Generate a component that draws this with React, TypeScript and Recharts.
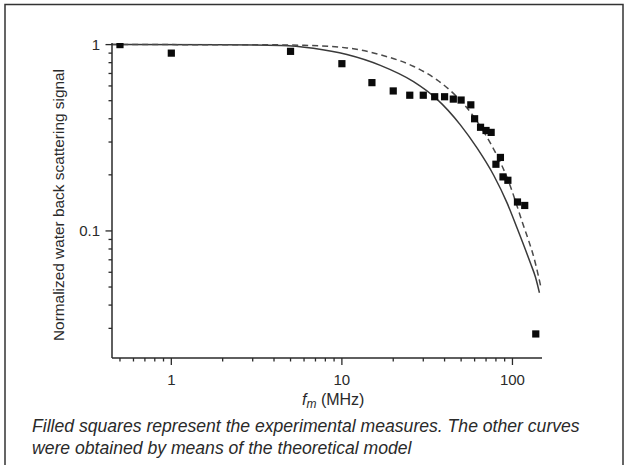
import React from 'react';
import { ComposedChart, Line, Scatter, XAxis, YAxis } from 'recharts';

// experimental measures (filled squares)
const measuredFreq = [0.5, 1, 5, 10, 15, 20, 25, 30, 35, 40, 45, 50, 57, 60, 65, 70, 75, 80, 85, 88, 94, 107, 118, 137];
const measuredSignal = [1.0, 0.9, 0.92, 0.79, 0.625, 0.564, 0.535, 0.535, 0.525, 0.525, 0.51, 0.504, 0.475, 0.4, 0.36, 0.346, 0.338, 0.228, 0.248, 0.195, 0.187, 0.143, 0.137, 0.028];

// theoretical model, solid curve
const solidFreq = [0.45, 2, 4.4, 6.8, 10.7, 16.8, 26.3, 35.8, 49.5, 62.1, 77.6, 93.1, 106.7, 127.6, 136.5, 143.9];
const solidSignal = [1.0, 0.998, 0.99, 0.956, 0.885, 0.774, 0.633, 0.513, 0.371, 0.278, 0.199, 0.141, 0.103, 0.067, 0.0564, 0.0466];

// theoretical model, dashed curve
const dashedFreq = [0.45, 3, 6, 10.7, 16.8, 26.4, 36.1, 43.3, 54.2, 67.9, 81.3, 93.5, 114, 136.5, 147];
const dashedSignal = [1.0, 0.999, 0.991, 0.96, 0.882, 0.763, 0.647, 0.566, 0.457, 0.34, 0.253, 0.191, 0.112, 0.0667, 0.0497];

const xTicks = [0.5, 0.6, 0.7, 0.8, 0.9, 1, 2, 3, 4, 5, 6, 7, 8, 9, 10, 20, 30, 40, 50, 60, 70, 80, 90, 100];
const yTicks = [0.03, 0.04, 0.05, 0.06, 0.07, 0.08, 0.09, 0.1, 0.2, 0.3, 0.4, 0.5, 0.6, 0.7, 0.8, 0.9, 1];
const xLabels = [1, 10, 100];
const yLabels = [0.1, 1];

const zip = (fs: number[], vs: number[]) => fs.map((f, i) => ({ f, v: vs[i] }));
const measured = zip(measuredFreq, measuredSignal);
const solid = zip(solidFreq, solidSignal);
const dashed = zip(dashedFreq, dashedSignal);

const FONT = '"Liberation Sans", Arial, Helvetica, sans-serif';
const INK = '#2a2a2a';

const XTick = (props: any) => {
  const { x, y, payload } = props;
  const major = xLabels.includes(payload.value);
  return (
    <g>
      <line x1={x} x2={x} y1={y} y2={y + (major ? 7 : 3.5)} stroke={INK} strokeWidth={1.3} />
      {major && (
        <text x={x} y={y + 27} textAnchor="middle" fontSize={15} fill={INK} fontFamily={FONT}>
          {payload.value}
        </text>
      )}
    </g>
  );
};

const YTick = (props: any) => {
  const { x, y, payload } = props;
  const major = yLabels.includes(payload.value);
  return (
    <g>
      <line x1={x} x2={x - (major ? 6.5 : 3.5)} y1={y} y2={y} stroke={INK} strokeWidth={1.3} />
      {major && (
        <text x={x - 12} y={y + 5} textAnchor="end" fontSize={15} fill={INK} fontFamily={FONT}>
          {payload.value}
        </text>
      )}
    </g>
  );
};

const Square = (props: any) => {
  const { cx, cy } = props;
  return <rect x={cx - 3.6} y={cy - 3.6} width={7.2} height={7.2} fill="#0a0a0a" />;
};

export default function App() {
  return (
    <div style={{ position: 'absolute', left: 0, top: 0, width: 628, height: 465, background: '#fff' }}>
      <ComposedChart width={628} height={465} margin={{ top: 43, right: 86, bottom: 77, left: 52 }}>
        <XAxis
          type="number"
          dataKey="f"
          scale="log"
          domain={[0.449, 149]}
          allowDataOverflow
          ticks={xTicks}
          interval={0}
          tickSize={0}
          tickMargin={0}
          tick={<XTick />}
          axisLine={{ stroke: INK, strokeWidth: 1.5 }}
          height={30}
        />
        <YAxis
          type="number"
          dataKey="v"
          scale="log"
          domain={[0.0208, 1.02]}
          allowDataOverflow
          ticks={yTicks}
          interval={0}
          tickSize={0}
          tickMargin={0}
          tick={<YTick />}
          axisLine={{ stroke: INK, strokeWidth: 1.5 }}
          width={60}
        />
        <Line
          data={solid}
          dataKey="v"
          type="monotone"
          stroke="#3a3a3a"
          strokeWidth={1.5}
          dot={false}
          activeDot={false}
          isAnimationActive={false}
        />
        <Line
          data={dashed}
          dataKey="v"
          type="monotone"
          stroke="#4a4a4a"
          strokeWidth={1.5}
          strokeDasharray="6 4"
          dot={false}
          activeDot={false}
          isAnimationActive={false}
        />
        <Scatter data={measured} dataKey="v" shape={<Square />} isAnimationActive={false} />
      </ComposedChart>
      <svg width={628} height={465} style={{ position: 'absolute', left: 0, top: 0, pointerEvents: 'none' }}>
        <path d="M5,465 L5,4.5 L623,4.5 L623,465" fill="none" stroke="#333" strokeWidth={1.5} />
        <text
          transform="translate(64,205) rotate(-90)"
          textAnchor="middle"
          fontSize={15.4}
          fill={INK}
          fontFamily={FONT}
        >
          Normalized water back scattering signal
        </text>
        <text x={302} y={405} fontSize={16} fill={INK} fontFamily={FONT}>
          <tspan fontStyle="italic">f</tspan>
          <tspan fontStyle="italic" fontSize={12} dy={3}>m</tspan>
          <tspan dy={-3}> (MHz)</tspan>
        </text>
        <text x={32} y={432} fontSize={17.6} fontStyle="italic" fill={INK} fontFamily={FONT}>
          Filled squares represent the experimental measures. The other curves
        </text>
        <text x={32} y={453.5} fontSize={17.6} fontStyle="italic" fill={INK} fontFamily={FONT}>
          were obtained by means of the theoretical model
        </text>
      </svg>
    </div>
  );
}
